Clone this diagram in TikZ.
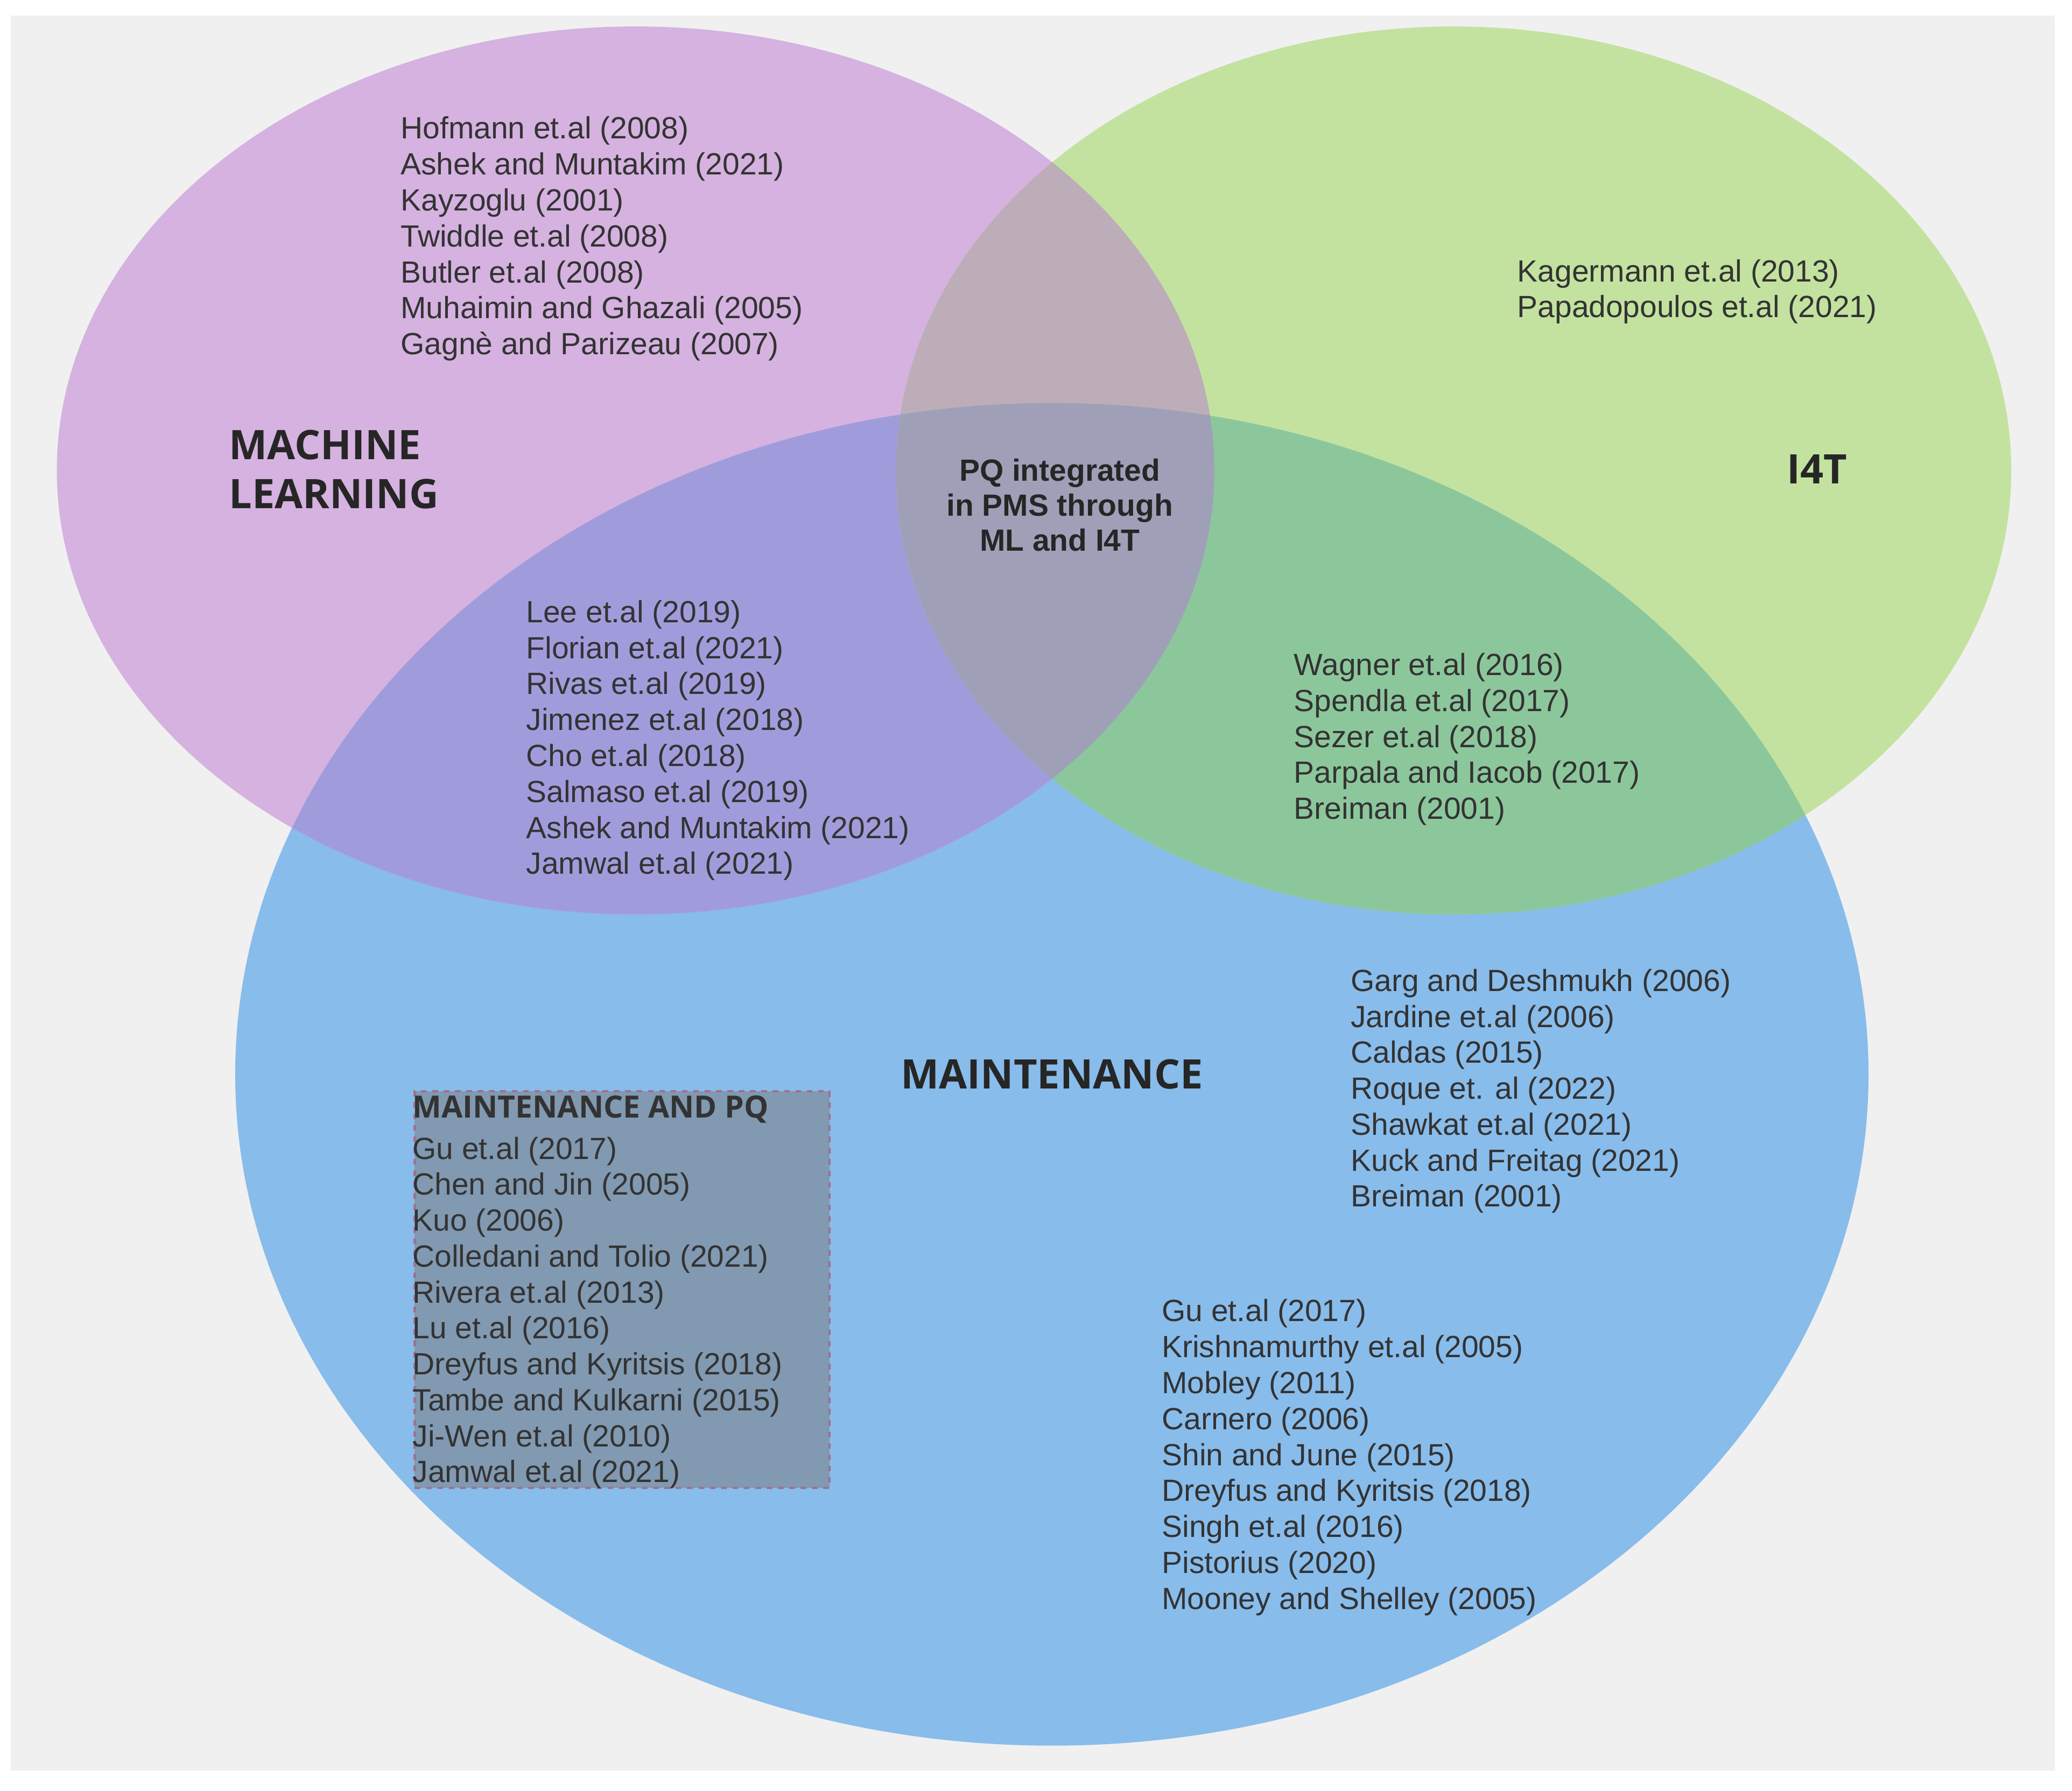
\documentclass[tikz,border=0pt]{standalone}
\usepackage{fontspec}
\setmainfont{Liberation Sans}
\newfontfamily\titlefont{Open Sans}
\begin{document}
\begin{tikzpicture}[x=0.02455cm,y=-0.02455cm,
  cite/.style={anchor=north west,align=left,inner sep=0,text=black!80,font=\fontsize{16.2}{19.0}\selectfont},
  head/.style={inner sep=0,text=black!85,font=\titlefont\bfseries\fontsize{21.5}{26}\selectfont}]
\definecolor{bgc}{HTML}{F0F0F0}
\definecolor{mlc}{HTML}{D5B2E0}
\definecolor{i4c}{HTML}{C3E2A0}
\definecolor{mac}{HTML}{88BCEB}
\definecolor{mlma}{HTML}{A09CDC}
\definecolor{i4ma}{HTML}{8CC79C}
\definecolor{mli4}{HTML}{BCADB8}
\definecolor{allc}{HTML}{9FA0B8}
\definecolor{boxc}{HTML}{8199B1}
\definecolor{boxd}{HTML}{A07090}
\useasboundingbox (0,0) rectangle (1568,1355);
\fill[white] (0,0) rectangle (1568,1355);
\fill[bgc] (8,12) rectangle (1555,1340);
\def\ML{(481,356) ellipse [x radius=438,y radius=336]}
\def\IT{(1100,356) ellipse [x radius=422,y radius=336]}
\def\MA{(796,813) ellipse [x radius=618,y radius=508]}
\fill[mac] \MA;
\fill[mlc] \ML;
\fill[i4c] \IT;
\begin{scope}\clip \ML; \fill[mlma] \MA; \fill[mli4] \IT; \end{scope}
\begin{scope}\clip \IT; \fill[i4ma] \MA; \end{scope}
\begin{scope}\clip \ML; \clip \IT; \fill[allc] \MA; \end{scope}
\node[fill=boxc,draw=boxd,dashed,line width=1.2pt,minimum width=314*0.02455cm,minimum height=300*0.02455cm,anchor=north west,inner sep=0] (box) at (313,825) {};

\node[head,anchor=north west,align=left] (ml) at (173,325) {MACHINE\\LEARNING};
\node[head,anchor=base west] (i4t) at (1352,366) {I4T};
\node[head] (ma) at (796,813) {MAINTENANCE};
\node[inner sep=0,align=center,text=black!85,font=\bfseries\fontsize{16.2}{18.5}\selectfont] (pq) at (802,382) {PQ integrated\\in PMS through\\ML and I4T};

\node[cite] (c1) at (303,88) {Hofmann et.al (2008)\\Ashek and Muntakim (2021)\\Kayzoglu (2001)\\Twiddle et.al (2008)\\Butler et.al (2008)\\Muhaimin and Ghazali (2005)\\Gagnè and Parizeau (2007)};
\node[cite] (c2) at (1148,196) {Kagermann et.al (2013)\\Papadopoulos et.al (2021)};
\node[cite] (c3) at (398,454) {Lee et.al (2019)\\Florian et.al (2021)\\Rivas et.al (2019)\\Jimenez et.al (2018)\\Cho et.al (2018)\\Salmaso et.al (2019)\\Ashek and Muntakim (2021)\\Jamwal et.al (2021)};
\node[cite] (c4) at (979,494) {Wagner et.al (2016)\\Spendla et.al (2017)\\Sezer et.al (2018)\\Parpala and Iacob (2017)\\Breiman (2001)};
\node[cite] (c5) at (1022,733) {Garg and Deshmukh (2006)\\Jardine et.al (2006)\\Caldas (2015)\\Roque et. al (2022)\\Shawkat et.al (2021)\\Kuck and Freitag (2021)\\Breiman (2001)};
\node[cite] (c6) at (879,983) {Gu et.al (2017)\\Krishnamurthy et.al (2005)\\Mobley (2011)\\Carnero (2006)\\Shin and June (2015)\\Dreyfus and Kyritsis (2018)\\Singh et.al (2016)\\Pistorius (2020)\\Mooney and Shelley (2005)};
\node[cite,font=\titlefont\bfseries\fontsize{16.2}{19}\selectfont] (bh) at (312,829) {MAINTENANCE AND PQ};
\node[cite] (c7) at (312,860) {Gu et.al (2017)\\Chen and Jin (2005)\\Kuo (2006)\\Colledani and Tolio (2021)\\Rivera et.al (2013)\\Lu et.al (2016)\\Dreyfus and Kyritsis (2018)\\Tambe and Kulkarni (2015)\\Ji-Wen et.al (2010)\\Jamwal et.al (2021)};
\end{tikzpicture}
\end{document}
